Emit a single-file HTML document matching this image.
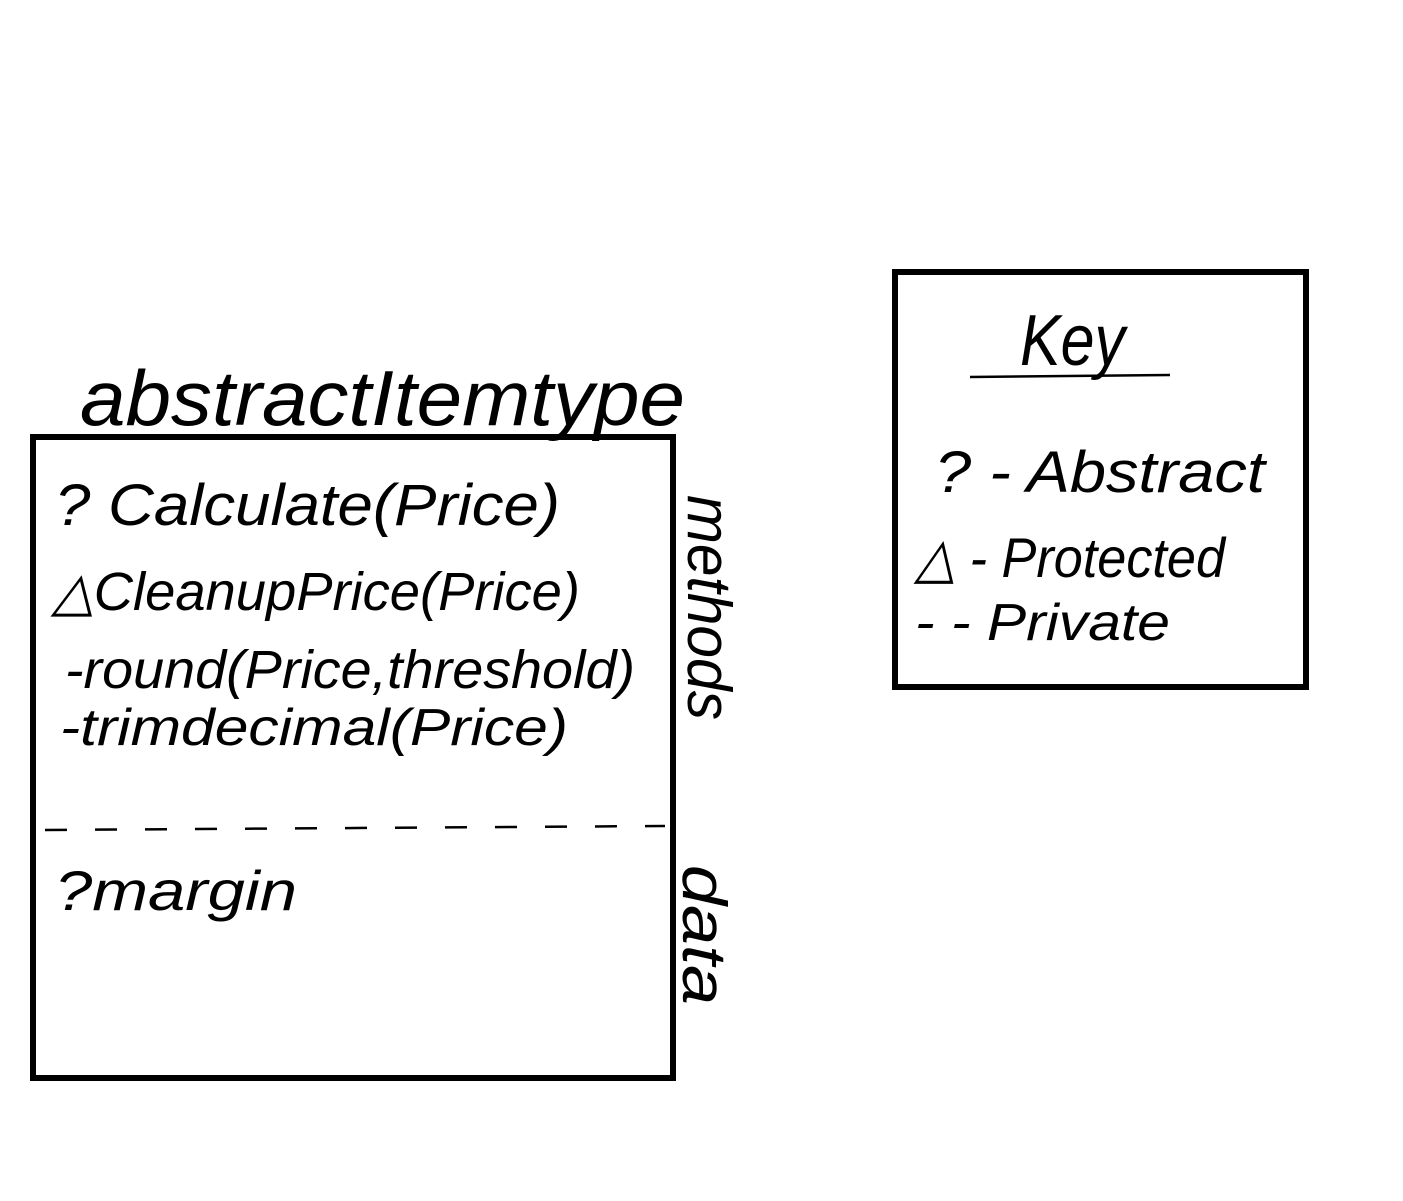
<!DOCTYPE html>
<html><head><meta charset="utf-8"><style>
html,body{margin:0;padding:0;background:#fff;}
svg{display:block;}
text{font-family:"Liberation Sans",sans-serif;fill:#000;font-style:italic;}
</style></head><body>
<svg width="1403" height="1201" viewBox="0 0 1403 1201" xmlns="http://www.w3.org/2000/svg">
<g stroke="#000" stroke-width="6" fill="none" stroke-linecap="round">
<rect x="33" y="437" width="640" height="641"/>
<rect x="895" y="272" width="411" height="415"/>
</g>
<line x1="45" y1="830" x2="665" y2="826" stroke="#000" stroke-width="2.5" stroke-dasharray="22,28"/>
<line x1="970" y1="377" x2="1170" y2="375" stroke="#000" stroke-width="2.5"/>
<text x="80" y="425" font-size="78" textLength="605" lengthAdjust="spacingAndGlyphs">abstractItemtype</text>
<text x="55" y="525" font-size="58" textLength="505" lengthAdjust="spacingAndGlyphs">? Calculate(Price)</text>
<text x="52" y="610" font-size="54" textLength="528" lengthAdjust="spacingAndGlyphs">△CleanupPrice(Price)</text>
<text x="65" y="688" font-size="54" textLength="570" lengthAdjust="spacingAndGlyphs">-round(Price,threshold)</text>
<text x="60" y="745" font-size="52" textLength="508" lengthAdjust="spacingAndGlyphs">-trimdecimal(Price)</text>
<text x="55" y="910" font-size="56" textLength="242" lengthAdjust="spacingAndGlyphs">?margin</text>
<text transform="translate(688,495) rotate(90)" font-size="62" textLength="225" lengthAdjust="spacingAndGlyphs">methods</text>
<text transform="translate(683,865) rotate(90)" font-size="62" textLength="140" lengthAdjust="spacingAndGlyphs">data</text>
<text x="1020" y="365" font-size="72" textLength="105" lengthAdjust="spacingAndGlyphs">Key</text>
<text x="935" y="492" font-size="58" textLength="330" lengthAdjust="spacingAndGlyphs">? - Abstract</text>
<text x="915" y="577" font-size="56" textLength="310" lengthAdjust="spacingAndGlyphs">△ - Protected</text>
<text x="915" y="640" font-size="52" textLength="255" lengthAdjust="spacingAndGlyphs">-  - Private</text>
</svg>
</body></html>
